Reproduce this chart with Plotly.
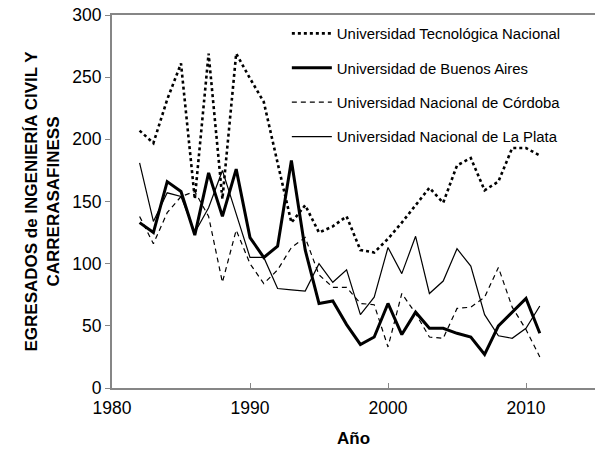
import plotly.graph_objects as go

years = list(range(1982, 2012))

utn = [207, 197, 232, 261, 152, 269, 152, 269, 249, 230, 181, 133, 147, 125, 130,
       138, 111, 109, 120, 133, 147, 161, 149, 179, 185, 159, 166, 193, 193, 187]
uba = [133, 125, 166, 158, 123, 173, 138, 176, 121, 105, 114, 183, 111, 68, 70,
       51, 35, 41, 68, 43, 61, 48, 48, 44, 41, 27, 50, 61, 72, 44]
unc = [138, 116, 141, 154, 158, 138, 85, 127, 100, 84, 95, 113, 121, 91, 81,
       81, 68, 67, 33, 76, 60, 41, 40, 64, 65, 73, 97, 65, 47, 25]
unlp = [181, 134, 157, 154, 125, 145, 175, 140, 105, 105, 80, 79, 78, 100, 85,
        95, 59, 73, 113, 92, 122, 76, 86, 112, 98, 59, 42, 40, 48, 66]

names = ["Universidad Tecnológica Nacional", "Universidad de Buenos Aires",
         "Universidad Nacional de Córdoba", "Universidad Nacional de La Plata"]
x_ticks = [1980, 1990, 2000, 2010]
y_ticks = [0, 50, 100, 150, 200, 250, 300]

FONT = "Liberation Sans"
styles = [
    dict(width=2.6, dash="dot"),
    dict(width=3, dash="solid"),
    dict(width=1.2, dash="5px,4px"),
    dict(width=1.2, dash="solid"),
]

fig = go.Figure()
for i, (nm, vals) in enumerate(zip(names, [utn, uba, unc, unlp])):
    fig.add_trace(go.Scatter(
        x=years, y=vals, mode="lines", name=nm, legendgroup=f"g{i}",
        line=dict(color="black", **styles[i]),
    ))

fig.update_layout(
    width=595, height=451,
    margin=dict(l=112, r=0, t=15, b=63, autoexpand=False),
    plot_bgcolor="white", paper_bgcolor="white",
    font=dict(family=FONT, color="#000000"),
    showlegend=True,
    legend=dict(
        x=0.362, y=0.994, xanchor="left", yanchor="top",
        bgcolor="rgba(0,0,0,0)", borderwidth=0,
        font=dict(size=14.9, family=FONT, color="#000000"),
        traceorder="grouped", tracegroupgap=12, itemwidth=40,
    ),
    xaxis=dict(
        range=[1980, 2015], tickvals=x_ticks, ticks="inside", ticklen=5,
        tickcolor="#868686", showline=True, linecolor="#868686", linewidth=2,
        mirror=True, showgrid=False, zeroline=False, automargin=False,
        ticklabeloverflow="allow",
        tickfont=dict(size=17.5, family=FONT, color="#000000"),
        ticklabelstandoff=3,
        title=dict(text="<b>Año</b>", font=dict(size=17, family=FONT), standoff=15),
    ),
    yaxis=dict(
        range=[0, 300], tickvals=y_ticks, ticks="outside", ticklen=5,
        tickcolor="#868686", showline=True, linecolor="#868686", linewidth=2,
        showgrid=False, zeroline=False, automargin=False,
        ticklabeloverflow="allow",
        tickfont=dict(size=17.5, family=FONT, color="#000000"),
        title=dict(text="<b>EGRESADOS de INGENIERÍA CIVIL Y<br>CARRERASAFINESS</b>",
                   font=dict(size=17, family=FONT), standoff=8),
    ),
)

fig.write_html("out.html", config={"displayModeBar": False},
               post_script="document.body.style.margin='0px';")
